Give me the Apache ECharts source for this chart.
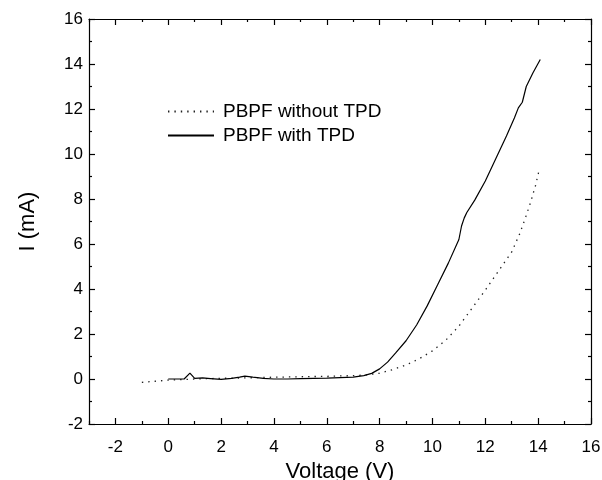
<!DOCTYPE html>
<html>
<head>
<meta charset="utf-8">
<script src="https://cdn.jsdelivr.net/npm/echarts@6/dist/echarts.min.js"></script>
<style>
html,body{margin:0;padding:0;background:#fff;}
#chart{width:602px;height:480px;}
</style>
</head>
<body>
<div id="chart"></div>
<script>
// ---- Data ----
const seriesNames = ['PBPF without TPD', 'PBPF with TPD'];

const withoutV = [-1.0,-0.5,0.0,0.5,1.0,2.0,3.0,4.0,5.0,6.0,7.0,7.5,8.0,8.5,9.0,9.5,10.0,10.5,11.0,11.5,12.0,12.5,13.0,13.3,13.5,13.7,13.9,14.05];
const withoutI = [-0.15,-0.1,-0.05,-0.03,0.0,0.03,0.05,0.08,0.1,0.12,0.15,0.18,0.26,0.42,0.62,0.9,1.25,1.72,2.35,3.15,3.95,4.8,5.65,6.45,7.1,7.8,8.6,9.35];

const withV = [0.0,0.3,0.6,0.82,1.0,1.3,1.6,2.0,2.4,2.7,2.9,3.2,3.6,4.0,4.5,5.0,5.5,6.0,6.5,7.0,7.4,7.7,8.0,8.3,8.6,9.0,9.4,9.8,10.2,10.6,11.0,11.1,11.2,11.3,11.6,12.0,12.4,12.8,13.1,13.25,13.4,13.55,13.8,14.08];
const withI = [0.0,0.0,0.0,0.26,0.03,0.05,0.02,-0.02,0.03,0.08,0.13,0.08,0.03,0.0,0.0,0.02,0.03,0.04,0.06,0.08,0.15,0.25,0.45,0.75,1.15,1.7,2.4,3.25,4.2,5.15,6.2,6.8,7.15,7.4,7.95,8.8,9.8,10.8,11.6,12.05,12.3,13.0,13.6,14.2];

const xMajorTicks = [-2,0,2,4,6,8,10,12,14,16];
const xMinorTicks = [-3,-1,1,3,5,7,9,11,13,15];
const yMajorTicks = [-2,0,2,4,6,8,10,12,14,16];
const yMinorTicks = [-1,1,3,5,7,9,11,13,15];

const xTitle = 'Voltage (V)';
const yTitle = 'I (mA)';

// ---- Build chart ----
const FONT = '"Liberation Sans", Arial, Helvetica, sans-serif';
const zip = (a, b) => a.map((v, i) => [v, b[i]]);

const lineCol = '#000';
function xAxisDef(pos, ticks, len, showLabels, showLine) {
  return {
    type: 'value', position: pos, min: -3, max: 16,
    splitLine: { show: false },
    axisLine: { show: showLine, onZero: false, lineStyle: { color: lineCol, width: 1.2 } },
    axisTick: { show: true, inside: true, length: len, customValues: ticks, lineStyle: { color: lineCol, width: 1.2 } },
    axisLabel: showLabels ? { show: true, customValues: ticks, color: '#000', fontFamily: FONT, fontSize: 17, margin: 15 } : { show: false }
  };
}
function yAxisDef(pos, ticks, len, showLabels, showLine) {
  return {
    type: 'value', position: pos, min: -2, max: 16,
    splitLine: { show: false },
    axisLine: { show: showLine, onZero: false, lineStyle: { color: lineCol, width: 1.2 } },
    axisTick: { show: true, inside: true, length: len, customValues: ticks, lineStyle: { color: lineCol, width: 1.2 } },
    axisLabel: showLabels ? { show: true, customValues: ticks, color: '#000', fontFamily: FONT, fontSize: 17, margin: 6 } : { show: false }
  };
}

const xAxes = [
  Object.assign(xAxisDef('bottom', xMajorTicks, 6, true, true), {
    name: xTitle, nameLocation: 'middle', nameGap: 29,
    nameTextStyle: { color: '#000', fontFamily: FONT, fontSize: 22 }
  }),
  xAxisDef('bottom', xMinorTicks, 3, false, false),
  xAxisDef('top', xMajorTicks, 6, false, true),
  xAxisDef('top', xMinorTicks, 3, false, false)
];
const yAxes = [
  Object.assign(yAxisDef('left', yMajorTicks, 6, true, true), {
    name: yTitle, nameLocation: 'middle', nameGap: 50,
    nameTextStyle: { color: '#000', fontFamily: FONT, fontSize: 22 }
  }),
  yAxisDef('left', yMinorTicks, 3, false, false),
  yAxisDef('right', yMajorTicks, 6, false, true),
  yAxisDef('right', yMinorTicks, 3, false, false)
];

const chart = echarts.init(document.getElementById('chart'), null, { renderer: 'canvas' });
chart.setOption({
  animation: false,
  backgroundColor: '#fff',
  grid: { left: 89, right: 11, top: 19, bottom: 56, containLabel: false, outerBoundsMode: 'none' },
  legend: {
    orient: 'vertical', left: 162, top: 97,
    itemWidth: 46, itemHeight: 14, itemGap: 5,
    data: seriesNames,
    itemStyle: { opacity: 0 },
    textStyle: { color: '#000', fontFamily: FONT, fontSize: 19, padding: [0, 0, 0, 4] }
  },
  xAxis: xAxes,
  yAxis: yAxes,
  series: [
    {
      name: seriesNames[0], type: 'line', xAxisIndex: 0, yAxisIndex: 0,
      data: zip(withoutV, withoutI), symbol: 'none', smooth: false,
      lineStyle: { color: '#222', width: 1.3, type: [1.4, 5] },
      itemStyle: { color: '#222' }
    },
    {
      name: seriesNames[1], type: 'line', xAxisIndex: 0, yAxisIndex: 0,
      data: zip(withV, withI), symbol: 'none', smooth: false,
      lineStyle: { color: '#000', width: 1.2, type: 'solid' },
      itemStyle: { color: '#000' }
    }
  ]
});
</script>
</body>
</html>
